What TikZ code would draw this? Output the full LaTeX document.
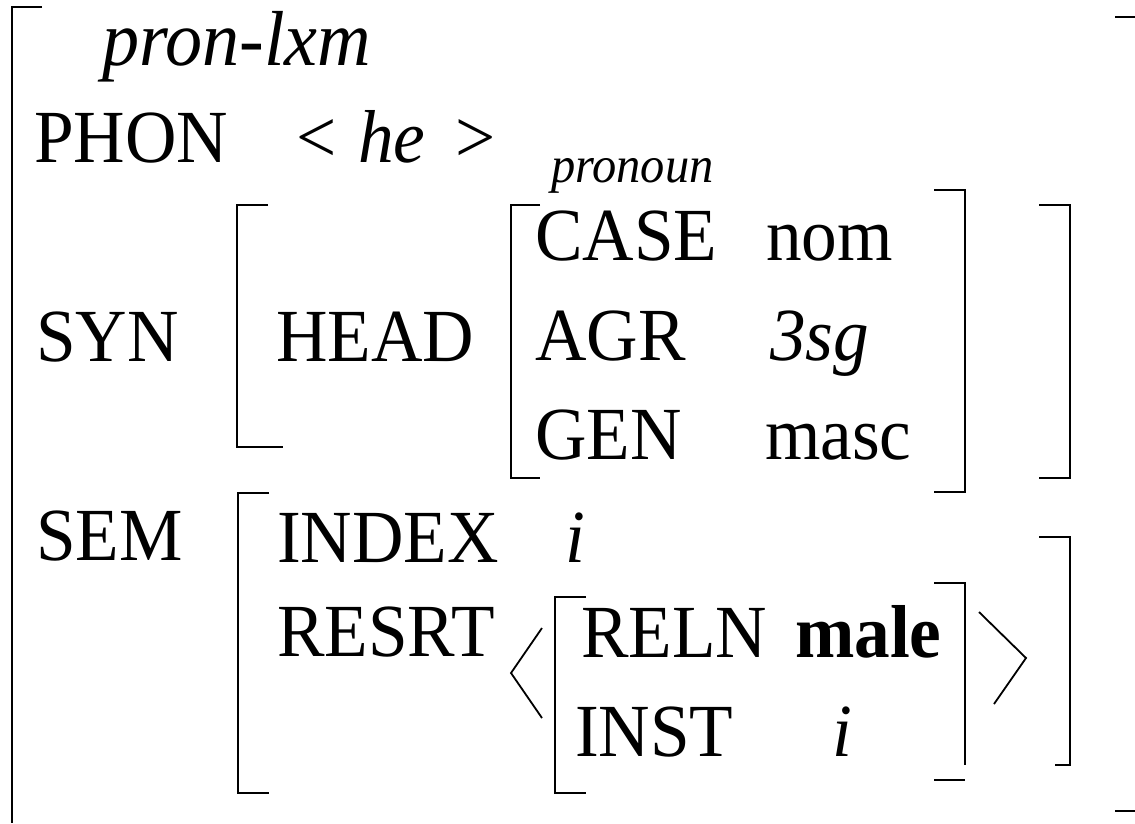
\documentclass[tikz,border=0pt]{standalone}
\usepackage{fontspec}
\setmainfont{Liberation Serif}[FakeStretch=0.95]
\begin{document}
\begin{tikzpicture}[x=1pt,y=-1pt,
  lbl/.style={anchor=base west, inner sep=0pt, font=\fontsize{75}{90}\selectfont},
  tiny/.style={anchor=base west, inner sep=0pt, font=\fontsize{51}{60}\selectfont\itshape},
  brk/.style={line width=1.8pt, line cap=butt, line join=miter}]
\useasboundingbox (0,0) rectangle (1135,823);
% outer brackets
\draw[brk] (42,7) -- (12,7) -- (12,823);
\draw[brk] (1115,17) -- (1135,17);
\draw[brk] (1115,811) -- (1135,811);
% top rows
\node[lbl, font=\fontsize{78}{90}\selectfont\itshape] (type) at (102,65) {pron-lxm};
\node[lbl] (phon) at (34,162) {PHON};
\node[lbl] (lt) at (296,162) {<};
\node[lbl] (he) at (358,162) {\itshape he};
\node[lbl] (gt) at (455,162) {>};
\node[tiny] (headtype) at (551,182) {pronoun};
% SYN
\node[lbl] (syn) at (36,361) {SYN};
\draw[brk] (268,205) -- (237,205) -- (237,447) -- (283,447);
\node[lbl] (head) at (276,361) {HEAD};
\draw[brk] (540,205) -- (511,205) -- (511,478) -- (540,478);
\node[lbl] (case) at (535,260) {CASE};
\node[lbl] (nom) at (766,260) {nom};
\node[lbl] (agr) at (535,360) {AGR};
\node[lbl] (sg) at (770,360) {\itshape 3sg};
\node[lbl] (gen) at (535,459) {GEN};
\node[lbl] (masc) at (765,459) {masc};
\draw[brk] (934,190) -- (965,190) -- (965,492) -- (934,492);
\draw[brk] (1039,205) -- (1070,205) -- (1070,478) -- (1039,478);
% SEM
\node[lbl] (sem) at (36,560) {SEM};
\draw[brk] (269,493) -- (238,493) -- (238,793) -- (269,793);
\node[lbl] (index) at (277,562) {INDEX};
\node[lbl] (indexv) at (565,562) {\itshape i};
\node[lbl] (resrt) at (277,656) {RESRT};
\draw[brk] (542,628) -- (511,673) -- (542,718);
\draw[brk] (586,597) -- (555,597) -- (555,793) -- (586,793);
\node[lbl] (reln) at (581,657) {RELN};
\node[lbl] (male) at (795,657) {\bfseries male};
\node[lbl] (inst) at (575,756) {INST};
\node[lbl] (instv) at (832,756) {\itshape i};
\draw[brk] (934,583) -- (965,583) -- (965,765);
\draw[brk] (934,780) -- (965,780);
\draw[brk] (979,612) -- (1026,658) -- (994,704);
\draw[brk] (1039,537) -- (1070,537) -- (1070,765) -- (1055,765);
\end{tikzpicture}
\end{document}
